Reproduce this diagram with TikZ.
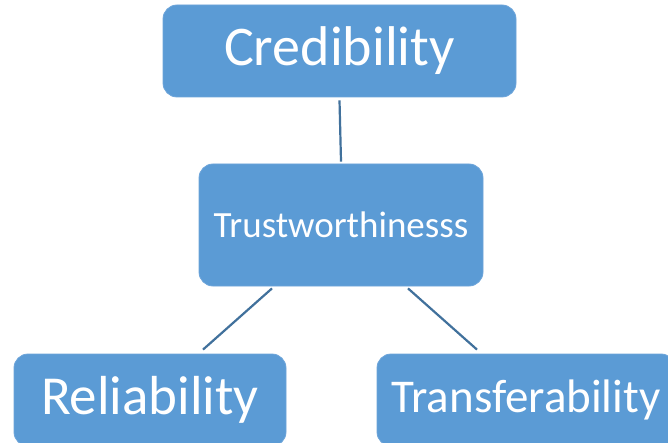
\documentclass[tikz,border=0pt]{standalone}
\usepackage{fontspec}
\setmainfont{Carlito}
\usepackage{xcolor}
\definecolor{tierFill}{RGB}{91, 155, 213}
\definecolor{tierEdge}{RGB}{110, 165, 218}
\definecolor{tierLink}{RGB}{65, 113, 156}
\usetikzlibrary{positioning}

\begin{document}
\begin{tikzpicture}[
    x=1pt, y=-1pt,
    tierBox/.style={
        rectangle, rounded corners=14pt,
        fill=tierFill, draw=tierEdge, line width=0.8pt,
        text=white, align=center, inner sep=0pt
    },
    tierLine/.style={
        draw=tierLink, line width=2.2pt
    }
]

    \clip (0,0) rectangle (668,443);
    \fill[white] (0,0) rectangle (668,443);

    % Boxes of the hierarchy
    \node[tierBox, minimum width=353pt, minimum height=92pt,
          font=\fontsize{56}{64}\selectfont] (cred) at (339.5,51) {Credibility};
    \node[tierBox, minimum width=284pt, minimum height=122pt,
          font=\fontsize{37}{44}\selectfont] (trust) at (341,225) {Trustworthinesss};
    \node[tierBox, minimum width=272pt, minimum height=92pt,
          font=\fontsize{55}{64}\selectfont] (rel) at (150,400) {Reliability};
    \node[tierBox, minimum width=298pt, minimum height=92pt,
          font=\fontsize{47}{56}\selectfont] (trans) at (526,400) {Transferability};

    % Connecting lines
    \draw[tierLine] ([yshift=-3pt]cred.south) -- ([yshift=2pt]trust.north);
    \draw[tierLine] ([xshift=-69pt,yshift=-2pt]trust.south) -- ([xshift=53pt,yshift=4pt]rel.north);
    \draw[tierLine] ([xshift=67pt,yshift=-2pt]trust.south) -- ([xshift=-49pt,yshift=4pt]trans.north);

\end{tikzpicture}
\end{document}
